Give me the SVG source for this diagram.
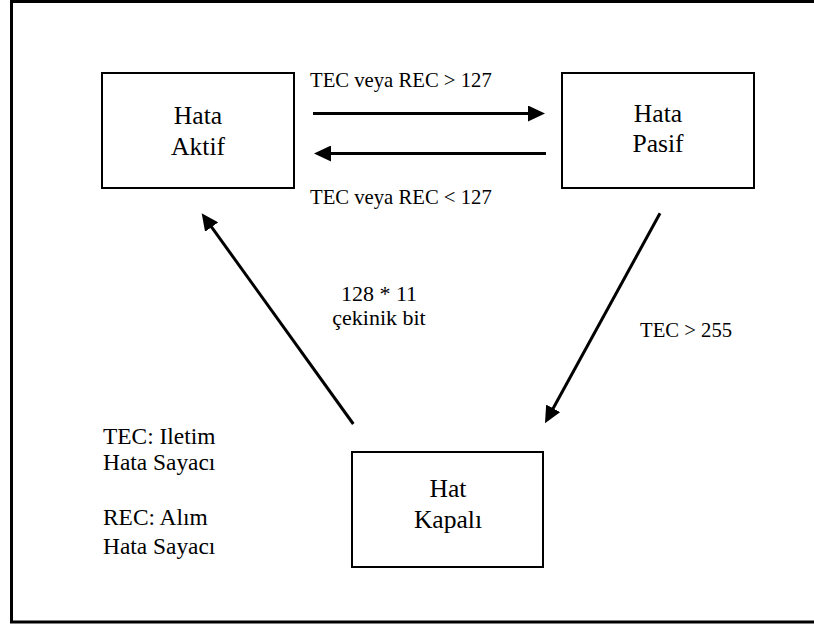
<svg xmlns="http://www.w3.org/2000/svg" width="814" height="625" viewBox="0 0 814 625">
  <style>
    text { font-family: "Liberation Serif", "Times New Roman", Times, "DejaVu Serif", serif; fill: #000; }
    .frame { fill: none; stroke: #000; stroke-width: 3; }
    .box { fill: #fff; stroke: #000; stroke-width: 2; }
    .node-text { font-size: 25.6px; text-anchor: middle; }
    .label { font-size: 20.7px; }
    .label-lg { font-size: 23.4px; }
    .mid { font-size: 22px; text-anchor: middle; }
    .edge { fill: none; stroke: #000; stroke-width: 3; marker-end: url(#head); }
  </style>
  <defs>
    <marker id="head" markerUnits="userSpaceOnUse" markerWidth="17" markerHeight="16" refX="7" refY="8" orient="auto">
      <path d="M0,0 L17,8 L0,16 z" fill="#000"/>
    </marker>
  </defs>

  <rect width="814" height="625" fill="#fff"/>
  <!-- outer frame, right side runs past the canvas -->
  <path class="frame" d="M830,1.5 L11.5,1.5 L11.5,622 L830,622"/>

  <g id="hata-aktif">
    <rect class="box" x="102" y="73" width="192" height="115"/>
    <text class="node-text" x="198" y="124">Hata</text>
    <text class="node-text" x="198" y="155">Aktif</text>
  </g>

  <g id="hata-pasif">
    <rect class="box" x="562" y="73" width="192" height="115"/>
    <text class="node-text" x="658" y="122">Hata</text>
    <text class="node-text" x="658" y="152">Pasif</text>
  </g>

  <g id="hat-kapali">
    <rect class="box" x="352" y="452" width="191" height="115"/>
    <text class="node-text" x="448" y="497">Hat</text>
    <text class="node-text" x="448" y="528">Kapalı</text>
  </g>

  <g id="connectors">
    <line class="edge" x1="313" y1="113.5" x2="535" y2="113.5"/>
    <line class="edge" x1="546" y1="153.5" x2="324" y2="153.5"/>
    <line class="edge" x1="353.3" y1="424" x2="207.5" y2="221.4"/>
    <line class="edge" x1="660" y1="213.3" x2="549.8" y2="414.5"/>
  </g>

  <g id="edge-labels">
    <text class="label" x="310" y="87">TEC veya REC &gt; 127</text>
    <text class="label" x="310" y="204">TEC veya REC &lt; 127</text>
    <text class="label" x="640" y="337">TEC &gt; 255</text>
    <text class="mid" x="379" y="300.5">128 * 11</text>
    <text class="mid" x="379" y="325">çekinik bit</text>
  </g>

  <g id="legend">
    <text class="label-lg" x="103" y="443.5">TEC: Iletim</text>
    <text class="label-lg" x="103" y="470">Hata Sayacı</text>
    <text class="label-lg" x="103" y="525">REC: Alım</text>
    <text class="label-lg" x="103" y="553.5">Hata Sayacı</text>
  </g>
</svg>
